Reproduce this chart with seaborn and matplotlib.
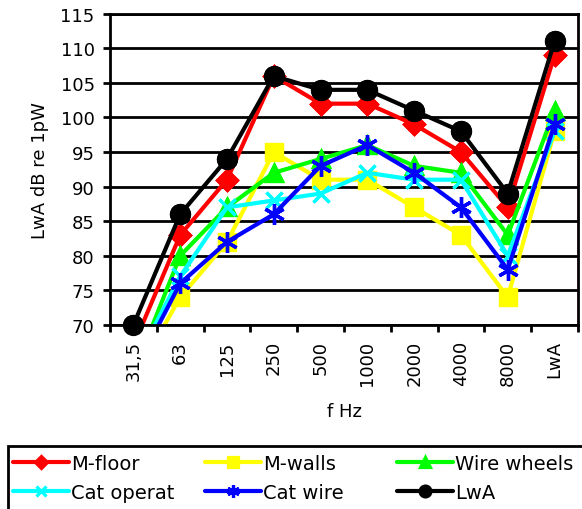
import pandas as pd
import matplotlib
matplotlib.use("Agg")
import matplotlib.pyplot as plt
from matplotlib.patches import Rectangle
import seaborn as sns

sns.set_theme(style="white")
plt.rcParams["font.family"] = ["DejaVu Sans"]
plt.rcParams["text.color"] = "black"
plt.rcParams["axes.labelcolor"] = "black"
plt.rcParams["xtick.color"] = "black"
plt.rcParams["ytick.color"] = "black"

freqs = ["31,5", "63", "125", "250", "500", "1000", "2000", "4000", "8000", "LwA"]

m_floor = [67, 83, 91, 106, 102, 102, 99, 95, 87, 109]
m_walls = [62, 74, 82, 95, 91, 91, 87, 83, 74, 98]
wire_wheels = [63, 80, 87, 92, 94, 96, 93, 92, 83, 101]
cat_operat = [64, 77, 87, 88, 89, 92, 91, 91, 80, 98]
cat_wire = [63, 76, 82, 86, 93, 96, 92, 87, 78, 99]
lwa = [70, 86, 94, 106, 104, 104, 101, 98, 89, 111]

series = [
    ("M-floor", m_floor, "#ff0000", "D", 10),
    ("M-walls", m_walls, "#ffff00", "s", 12),
    ("Wire wheels", wire_wheels, "#00ff00", "^", 12),
    ("Cat operat", cat_operat, "#00ffff", "x", 11),
    ("Cat wire", cat_wire, "#0000ff", (6, 2, 0), 15),
    ("LwA", lwa, "#000000", "o", 13),
]

W, H = 582, 510
fig = plt.figure(figsize=(W / 100, H / 100), dpi=100)
ax = fig.add_axes([0.189, 0.361, 0.804, 0.610])

for name, vals, col, mk, ms in series:
    df = pd.DataFrame({"f": range(len(freqs)), "v": vals})
    sns.lineplot(data=df, x="f", y="v", ax=ax, color=col, lw=3.0, marker=mk,
                 markersize=ms, markeredgecolor=col, markeredgewidth=2.3,
                 label=name)
    # markers sitting on the bottom edge are not cut off
    vis = df[df["v"] >= 70]
    sns.lineplot(data=vis, x="f", y="v", ax=ax, color=col, lw=0, marker=mk,
                 markersize=ms, markeredgecolor=col, markeredgewidth=2.3,
                 clip_on=False, legend=False)

ax.set_xlim(-0.5, len(freqs) - 0.5)
ax.set_ylim(70, 115)
ax.set_yticks(range(70, 116, 5))
ax.grid(axis="y", color="black", lw=2)
ax.set_axisbelow(True)
for s in ax.spines.values():
    s.set_color("black")
    s.set_linewidth(2)

ax.set_xticks(range(len(freqs)))
ax.set_xticklabels(freqs, rotation=90, fontsize=13)
ax.set_xticks([i - 0.5 for i in range(len(freqs) + 1)], minor=True)
ax.tick_params(axis="x", which="major", length=0, pad=11)
ax.tick_params(axis="x", which="minor", length=5, width=2, color="black",
               direction="out", bottom=True)
ax.tick_params(axis="y", length=5, width=2, color="black", direction="out",
               left=True, labelsize=13, pad=6)

ax.set_xlabel("f Hz", fontsize=13, labelpad=12)
ax.set_ylabel("LwA dB re 1pW", fontsize=13, labelpad=8)

# legend: three equal-width columns, filled row by row, frame runs off the page
ax.get_legend().remove()
handles, labels = ax.get_legend_handles_labels()
col_x = [13, 205, 397]
for c, x0 in enumerate(col_x):
    idx = [c, c + 3]
    fig.legend([handles[i] for i in idx], [labels[i] for i in idx],
               loc="upper left", bbox_to_anchor=(x0 / W, 1 - 455 / H),
               fontsize=14, frameon=False, handlelength=2.9,
               handletextpad=0.1, markerscale=0.6, borderaxespad=0,
               borderpad=0, labelspacing=0.52)
fig.patches.append(Rectangle((8 / W, -0.1), 1.2, 0.1 + 1 - 447 / H,
                             transform=fig.transFigure, fill=False,
                             edgecolor="black", lw=2))

fig.savefig("out.png", dpi=100)
